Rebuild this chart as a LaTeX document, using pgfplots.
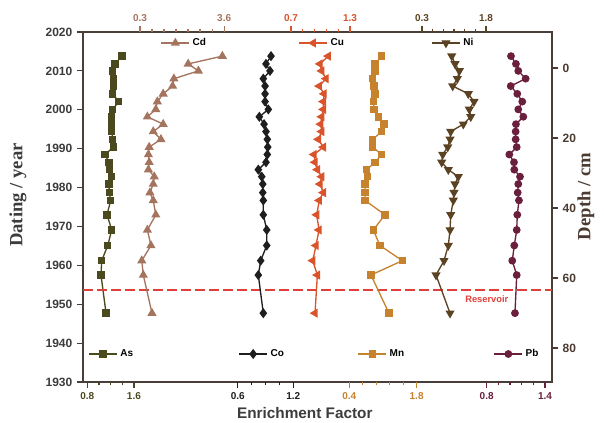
\documentclass[border=0pt]{standalone}
\usepackage{fontspec}
\setmainfont{Liberation Sans}
\newfontfamily\seriffont{Liberation Serif}
\usepackage{pgfplots}
\usepackage{pgfplotstable}
\pgfplotsset{compat=1.18}
\definecolor{frameC}{HTML}{4A3F38}
\definecolor{ylabC}{HTML}{3C3C3C}
\definecolor{depC}{HTML}{4A3A30}
\definecolor{AsC}{HTML}{4B4A1F}
\definecolor{CdC}{HTML}{A5745F}
\definecolor{CoC}{HTML}{1E1E1E}
\definecolor{CuC}{HTML}{D9532B}
\definecolor{MnC}{HTML}{C7822E}
\definecolor{NiC}{HTML}{5B4222}
\definecolor{PbC}{HTML}{6A1F3D}
\definecolor{resC}{HTML}{E0403A}

\pgfplotstableread{
year   As    Cd   Co    Cu    Mn    Ni    Pb
2013.8 1.395 3.53 0.959 1.079 1.074 0.996 1.050
2011.8 1.275 2.19 0.905 0.995 0.934 1.073 1.101
2010.0 1.236 2.59 0.948 1.012 0.934 1.174 1.125
2008.0 1.253 1.63 0.876 1.056 0.886 1.127 1.201
2006.1 1.253 1.58 0.895 0.988 0.914 1.019 1.047
2004.1 1.236 1.21 0.895 1.036 0.934 1.384 1.115
2002.1 1.339 0.98 0.895 1.029 0.899 1.518 1.166
2000.1 1.236 0.92 0.930 1.029 0.914 1.408 1.125
1998.2 1.219 0.59 0.833 1.012 1.003 1.441 1.177
1996.3 1.219 1.21 0.884 1.002 1.121 1.267 1.101
1994.4 1.219 0.82 0.905 1.012 1.074 0.972 1.098
1992.4 1.236 1.12 0.919 0.978 0.886 0.956 1.098
1990.4 1.246 0.66 0.924 1.029 0.886 0.902 1.109
1988.5 1.104 0.63 0.919 0.934 1.074 0.785 1.033
1986.5 1.172 0.66 0.905 0.944 0.934 0.761 1.081
1984.6 1.177 0.63 0.822 0.968 0.762 0.916 1.084
1982.8 1.219 0.86 0.859 1.012 0.774 1.150 1.143
1980.9 1.172 0.82 0.870 0.995 0.726 1.073 1.125
1978.7 1.177 0.69 0.870 1.029 0.726 1.049 1.119
1976.7 1.201 0.82 0.876 0.988 0.726 1.033 1.132
1973.0 1.138 0.92 0.876 0.961 1.142 0.972 1.115
1969.1 1.219 0.59 0.913 0.985 0.899 0.956 1.109
1965.1 1.150 0.73 0.913 0.954 1.038 0.916 1.084
1961.2 1.047 0.37 0.848 0.921 1.502 0.815 1.063
1957.5 1.035 0.43 0.822 0.968 0.851 0.628 1.109
1947.7 1.121 0.77 0.876 0.944 1.225 0.956 1.091
}\data

\pgfplotsset{
  base/.style={
    width=351.75pt, height=262.5pt, scale only axis,
    at={(0,0)}, anchor=south west,
    ymin=1930, ymax=2020, enlargelimits=false,
    /pgf/number format/assume math mode=true,
    /pgf/number format/1000 sep={},
    tick align=outside,
    major tick length=4.5pt, minor tick length=2.5pt,
    every tick/.append style={line width=0.9pt},
    ticklabel style={font=\bfseries\fontsize{7.5}{9}\selectfont},
    legend style={draw=none, fill=none, inner sep=0pt, anchor=west,
      font=\bfseries\fontsize{7.5}{9}\selectfont},
    legend cell align=left,
    legend image code/.code={\draw[mark repeat=2,mark phase=2,##1] plot coordinates {(0cm,0cm) (0.37cm,0cm) (0.74cm,0cm)};},
    clip=false,
  },
  over/.style={base, axis line style={draw=none}, ytick=\empty},
  ser/.style={color=#1, line width=1pt, mark options={solid, fill=#1}},
}

\begin{document}
\begin{tikzpicture}
\useasboundingbox (-62.25pt,-30pt) rectangle (390.75pt,286.5pt);

% As + frame
\begin{axis}[base, xmin=0.726, xmax=8.771,
  xtick={0.8,1.6}, minor xtick={1.0,1.2,1.4}, xtick pos=left,
  ytick={1930,1940,...,2020}, ytick pos=left,
  axis line style={color=frameC, line width=1pt},
  xticklabel style={color=AsC}, xtick style={color=AsC},
  ytick style={color=frameC},
  yticklabel style={color=ylabC, font=\bfseries\fontsize{9}{10}\selectfont},
  legend style={at={(0.011,0.08)}}]
\addplot[ser=AsC, mark=square*, mark size=2.3pt] table[x=As,y=year]{\data};
\addlegendentry{As}
\draw[resC, line width=1.4pt, dash pattern=on 7.5pt off 3pt] (axis cs:0.726,1953.7) -- (axis cs:8.771,1953.7);
\node[resC, font=\bfseries\fontsize{7}{8}\selectfont] at (axis description cs:0.861,0.237) {Reservoir};
\node[rotate=90, color=ylabC, font=\seriffont\bfseries\fontsize{14}{16}\selectfont] at (axis description cs:-0.1386,0.534) {Dating / year};
\node[color=ylabC, font=\bfseries\fontsize{11.5}{13}\selectfont] at (axis description cs:0.473,-0.0886) {Enrichment Factor};
\node[rotate=90, color=depC, font=\seriffont\bfseries\fontsize{14}{16}\selectfont] at (axis description cs:1.0725,0.53) {Depth / cm};
\end{axis}

% Co
\begin{axis}[over, xmin=-1.069, xmax=3.990,
  xtick={0.6,1.2}, minor xtick={0.75,0.9,1.05}, xtick pos=left,
  xticklabel style={color=CoC}, xtick style={color=CoC},
  legend style={at={(0.331,0.08)}}]
\addplot[ser=CoC, mark=diamond*, mark size=3pt] table[x=Co,y=year]{\data};
\addlegendentry{Co}
\end{axis}

% Mn
\begin{axis}[over, xmin=-5.136, xmax=4.614,
  xtick={0.4,1.8}, minor xtick={0.68,0.96,1.24,1.52}, xtick pos=left,
  xticklabel style={color=MnC}, xtick style={color=MnC},
  legend style={at={(0.585,0.08)}}]
\addplot[ser=MnC, mark=square*, mark size=2.3pt] table[x=Mn,y=year]{\data};
\addlegendentry{Mn}
\end{axis}

% Pb
\begin{axis}[over, xmin=-3.353, xmax=1.472,
  xtick={0.8,1.4}, minor xtick={0.92,1.04,1.16,1.28}, xtick pos=left,
  xticklabel style={color=PbC}, xtick style={color=PbC},
  legend style={at={(0.875,0.08)}}]
\addplot[ser=PbC, mark=*, mark size=2.4pt] table[x=Pb,y=year]{\data};
\addlegendentry{Pb}
\end{axis}

% Cd (top)
\begin{axis}[over, xmin=-1.935, xmax=16.457,
  xtick={0.3,3.6}, minor xtick={0.771,1.243,1.714,2.186,2.657,3.129},
  xtick pos=right, xticklabel pos=right,
  xticklabel style={color=CdC}, xtick style={color=CdC},
  legend style={at={(0.165,0.9686)}}]
\addplot[ser=CdC, mark=triangle*, mark size=3pt] table[x=Cd,y=year]{\data};
\addlegendentry{Cd}
\end{axis}

% Cu (top)
\begin{axis}[over, xmin=-1.416, xmax=3.355,
  xtick={0.7,1.3}, minor xtick={0.82,0.94,1.06,1.18},
  xtick pos=right, xticklabel pos=right,
  xticklabel style={color=CuC}, xtick style={color=CuC},
  legend style={at={(0.459,0.9686)}}]
\addplot[ser=CuC, mark=triangle*, mark size=3pt, mark options={rotate=90}] table[x=Cu,y=year]{\data};
\addlegendentry{Cu}
\end{axis}

% Ni (top)
\begin{axis}[over, xmin=-7.639, xmax=3.344,
  xtick={0.3,1.8}, minor xtick={0.55,0.8,1.05,1.3,1.55},
  xtick pos=right, xticklabel pos=right,
  xticklabel style={color=NiC}, xtick style={color=NiC},
  legend style={at={(0.742,0.9686)}}]
\addplot[ser=NiC, mark=triangle*, mark size=3pt, mark options={rotate=180}] table[x=Ni,y=year]{\data};
\addlegendentry{Ni}
\end{axis}

% Depth axis (right)
\begin{axis}[base, axis line style={draw=none},
  xmin=0, xmax=1, xtick=\empty,
  y dir=reverse, ymin=-10.29, ymax=89.71,
  ytick={0,20,40,60,80}, ytick pos=right, yticklabel pos=right,
  ytick style={color=depC},
  yticklabel style={color=depC, font=\bfseries\fontsize{9}{10}\selectfont}]
\addplot[draw=none, forget plot] coordinates {(0.5,0) (0.5,80)};
\end{axis}
\end{tikzpicture}
\end{document}
